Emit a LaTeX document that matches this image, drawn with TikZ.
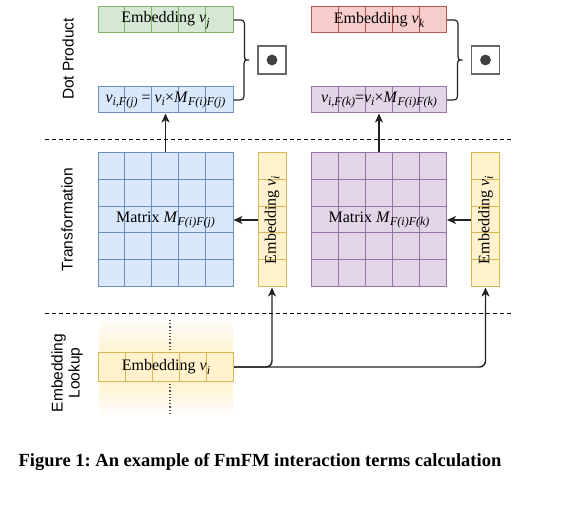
\documentclass[tikz,border=0pt]{standalone}
\usepackage{fontspec}
\setmainfont{Liberation Serif}
\setsansfont{Liberation Sans}
\usetikzlibrary{arrows.meta,calc}
\definecolor{gfill}{HTML}{D5E8D4}\definecolor{gline}{HTML}{82B366}
\definecolor{bfill}{HTML}{DAE8FC}\definecolor{bline}{HTML}{6C8EBF}
\definecolor{rfill}{HTML}{F8CECC}\definecolor{rline}{HTML}{B85450}
\definecolor{pfill}{HTML}{E1D5E7}\definecolor{pline}{HTML}{9673A6}
\definecolor{yfill}{HTML}{FFF2CC}\definecolor{yline}{HTML}{D6B656}
\definecolor{ybg}{HTML}{FFEDBE}
\definecolor{conncol}{HTML}{222222}
\newcommand\iv[1]{\textit{#1}}
\newcommand\isub[1]{\raisebox{-3.5pt}{\fontsize{12}{13}\selectfont\itshape #1}}
\begin{document}
\begin{tikzpicture}[x=1pt,y=-1pt,
  boxtext/.style={font=\fontsize{16}{18}\selectfont, inner sep=0pt},
  vecbox/.style={draw, line width=1pt, minimum width=135pt, minimum height=26pt, inner sep=0pt},
  colbox/.style={draw, line width=1pt, minimum width=28pt, minimum height=134pt, inner sep=0pt},
  matbox/.style={draw, line width=1pt, minimum width=135pt, minimum height=134pt, inner sep=0pt},
  dotbox/.style={draw=black!60, line width=1.3pt, fill=white, minimum size=28pt, inner sep=0pt},
  conn/.style={draw=conncol, line width=1.4pt},
  arr/.style={conn, -{Stealth[length=9pt,width=8pt,inset=2.5pt]}},
  sep/.style={draw=black, line width=1pt, dash pattern=on 4pt off 3pt},
  sidelabel/.style={font=\sffamily\fontsize{15.5}{17}\selectfont, rotate=90, align=center, inner sep=0pt}
]
\useasboundingbox[fill=white] (0,0) rectangle (562,510);

% separators
\draw[sep] (45,140) -- (513,140);
\draw[sep] (45,314) -- (513,314);

% side labels
\node[sidelabel] (l1) at (68,59) {Dot Product};
\node[sidelabel] (l2) at (67,220) {Transformation};
\node[sidelabel] (l3) at (67,373) {Embedding\\Lookup};

% ---- top row vectors
\node[vecbox, draw=gline, fill=gfill] (gj) at (165.5,20) {};
\node[vecbox, draw=bline, fill=bfill] (bj) at (165.5,100) {};
\node[vecbox, draw=rline, fill=rfill] (rk) at (379,20) {};
\node[vecbox, draw=pline, fill=pfill] (pk) at (379,100) {};
\foreach \n/\c in {gj/gline,bj/bline,rk/rline,pk/pline}{
  \foreach \i in {1,...,4}{\draw[\c, line width=1pt] ($(\n.north west)+(\i*27,0)$) -- ++(0,26);}
}
\node[boxtext] at (gj) {Embedding \iv{v}\isub{j}};
\node[boxtext] at (rk) {Embedding \iv{v}\isub{k}};
\node[boxtext] at (bj) {\iv{v}\isub{i,F(j)} = \iv{v}\isub{i}×\iv{M}\isub{F(i)F(j)}};
\node[boxtext] at (pk) {\iv{v}\isub{i,F(k)}=\iv{v}\isub{i}×\iv{M}\isub{F(i)F(k)}};

% dot product boxes
\node[dotbox] (d1) at (272,60) {};
\node[dotbox] (d2) at (485.5,60) {};
\fill[black!75] (d1) circle (5.4);
\fill[black!75] (d2) circle (5.4);

% braces
\coordinate (t1) at (249,60);
\coordinate (t2) at (462.5,60);
\draw[conn, line width=1.2pt] (gj.east) -- ++(3,0) .. controls +(8,0) .. ++(8,8) -- ++(0,24) .. controls +(0,8) .. (t1)
   .. controls +(-5,0) .. ++(-5,8) -- ++(0,24) .. controls +(0,8) .. ++(-8,8) -- (bj.east);
\draw[conn, line width=1.2pt] (rk.east) -- ++(3,0) .. controls +(8,0) .. ++(8,8) -- ++(0,24) .. controls +(0,8) .. (t2)
   .. controls +(-5,0) .. ++(-5,8) -- ++(0,24) .. controls +(0,8) .. ++(-8,8) -- (pk.east);

% ---- matrices
\node[matbox, draw=bline, fill=bfill] (bm) at (165.5,220) {};
\node[matbox, draw=pline, fill=pfill] (pm) at (379,220) {};
\foreach \n/\c in {bm/bline,pm/pline}{
  \foreach \i in {1,...,4}{
    \draw[\c, line width=1pt] ($(\n.north west)+(\i*27,0)$) -- ++(0,134);
    \draw[\c, line width=1pt] ($(\n.north west)+(0,\i*26.8)$) -- ++(135,0);
  }
}
\node[boxtext] at (bm) {Matrix \iv{M}\isub{F(i)F(j)}};
\node[boxtext] at (pm) {Matrix \iv{M}\isub{F(i)F(k)}};

% vertical embeddings
\node[colbox, draw=yline, fill=yfill] (y1) at (272,220) {};
\node[colbox, draw=yline, fill=yfill] (y2) at (485.5,220) {};
\foreach \n in {y1,y2}{
  \foreach \i in {1,...,4}{\draw[yline, line width=1pt] ($(\n.north west)+(0,\i*26.8)$) -- ++(28,0);}
  \node[boxtext, rotate=90] at (\n) {Embedding \iv{v}\isub{i}};
}

% ---- embedding lookup
\shade[top color=white, bottom color=white, middle color=ybg] (99,316) rectangle (233,418);
\draw[black!70, line width=1.2pt, dotted] (170,320) -- (170,349);
\draw[black!70, line width=1.2pt, dotted] (170,384) -- (170,413);
\node[vecbox, draw=yline, fill=yfill, minimum height=28pt] (ei) at (166,367) {};
\foreach \i in {1,...,4}{\draw[yline, line width=1pt] ($(ei.north west)+(\i*27,0)$) -- ++(0,28);}
\node[boxtext] at (ei) {Embedding \iv{v}\isub{i}};

% ---- connectors
\draw[arr] (bm.north) -- (bj.south);
\draw[arr] (pm.north) -- (pk.south);
\draw[arr] (y1.west) -- (bm.east);
\draw[arr] (y2.west) -- (pm.east);
\draw[arr, rounded corners=6pt] (ei.east) -| (y1.south);
\draw[arr, rounded corners=6pt] (ei.east) -| (y2.south);

% caption
\node[font=\bfseries\fontsize{18.5}{21}\selectfont, inner sep=0pt] (cap) at (260,462) {\frenchspacing Figure 1: An example of FmFM interaction terms calculation};
\end{tikzpicture}
\end{document}
